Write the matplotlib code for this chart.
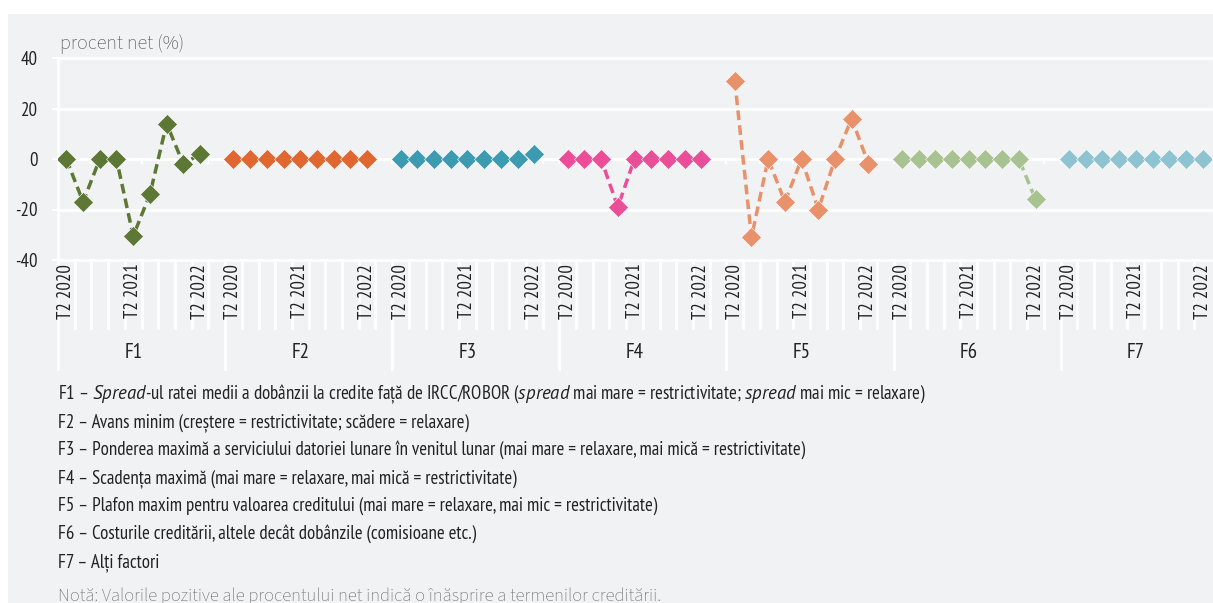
import numpy as np
import matplotlib
matplotlib.use("Agg")
import matplotlib.pyplot as plt
from matplotlib.patches import Rectangle

# date (procent net, %)
trimestre = ["T2 2020", "T3 2020", "T4 2020", "T1 2021", "T2 2021",
             "T3 2021", "T4 2021", "T1 2022", "T2 2022"]
factori = ["F1", "F2", "F3", "F4", "F5", "F6", "F7"]
f1 = [0, -17, 0, 0, -30.5, -14, 14, -2, 2]
f2 = [0, 0, 0, 0, 0, 0, 0, 0, 0]
f3 = [0, 0, 0, 0, 0, 0, 0, 0, 2]
f4 = [0, 0, 0, -19, 0, 0, 0, 0, 0]
f5 = [31, -31, 0, -17, 0, -20, 0, 16, -2]
f6 = [0, 0, 0, 0, 0, 0, 0, 0, -16]
f7 = [0, 0, 0, 0, 0, 0, 0, 0, 0]
culori = ["#5d7834", "#e0672f", "#3c9bb1", "#ec4d97", "#e8916b", "#a9c291", "#8ec4d1"]

legenda = [
    r"F1 – $\mathit{Spread}$-ul ratei medii a dobânzii la credite față de IRCC/ROBOR ($\mathit{spread}$ mai mare = restrictivitate; $\mathit{spread}$ mai mic = relaxare)",
    "F2 – Avans minim (creștere = restrictivitate; scădere = relaxare)",
    "F3 – Ponderea maximă a serviciului datoriei lunare în venitul lunar (mai mare = relaxare, mai mică = restrictivitate)",
    "F4 – Scadența maximă (mai mare = relaxare, mai mică = restrictivitate)",
    "F5 – Plafon maxim pentru valoarea creditului (mai mare = relaxare, mai mic = restrictivitate)",
    "F6 – Costurile creditării, altele decât dobânzile (comisioane etc.)",
    "F7 – Alți factori",
]
nota = "Notă: Valorile pozitive ale procentului net indică o înăsprire a termenilor creditării."

ingust = ["PT Sans Narrow", "Fira Sans Condensed", "DejaVu Sans"]
normal = ["Source Sans 3", "Source Sans Pro", "PT Sans", "DejaVu Sans"]
plt.rcParams["font.family"] = ingust
plt.rcParams["axes.unicode_minus"] = False
plt.rcParams["mathtext.fontset"] = "custom"
plt.rcParams["mathtext.it"] = "PT Sans:italic"
plt.rcParams["mathtext.rm"] = "PT Sans Narrow"

W, H = 1213, 603
fig = plt.figure(figsize=(W / 100, H / 100), dpi=100)
fig.patch.set_facecolor("white")
fig.patches.append(Rectangle((8 / W, 0), 1, 1 - 14 / H, transform=fig.transFigure,
                             facecolor="#f1f2f4", edgecolor="none", zorder=-10))

ax = fig.add_axes([58 / W, 1 - 260 / H, 1153 / W, 202 / H])
ax.set_facecolor("none")
for s in ax.spines.values():
    s.set_visible(False)

n_slot = 10 * (len(factori) - 1) + len(trimestre)
ax.set_xlim(0, n_slot)
ax.set_ylim(-40, 40)
ax.set_yticks([-40, -20, 0, 20, 40])
ax.set_xticks([])
ax.tick_params(axis="y", length=4.5, width=1.5, color="white", pad=10,
               labelsize=13.5, labelcolor="#222222")
for yv in [-40, -20, 0, 20, 40]:
    ax.axhline(yv, color="white", lw=2, zorder=1, clip_on=False)

tr = ax.get_xaxis_transform()
# linia axei verticale + separatoare
for j in range(n_slot):
    if j == 0:
        ax.plot([j, j], [1, -0.54], transform=tr, color="white", lw=2, clip_on=False, zorder=1)
    elif j % 10 == 0:
        ax.plot([j, j], [0, -0.54], transform=tr, color="white", lw=2, clip_on=False, zorder=1)
    else:
        ax.plot([j, j], [0, -0.337], transform=tr, color="white", lw=2, clip_on=False, zorder=1)
    if j > 0:
        ax.plot([j, j], [0, -1.7], color="white", lw=1.5, zorder=1)

serii = [f1, f2, f3, f4, f5, f6, f7]
for g, (vals, col) in enumerate(zip(serii, culori)):
    x = 10 * g + np.arange(len(vals)) + 0.5
    ax.plot(x, vals, ls=(0, (2.8, 1.5)), lw=2.5, color=col, marker="D", ms=10,
            mec="white", mew=0.4, zorder=3)
    for k, q in enumerate(trimestre):
        if q.startswith("T2"):
            ax.text(x[k], -0.018, q, transform=tr, rotation=90, ha="center", va="top",
                    fontsize=13.5, color="#222222")
    ax.text(10 * g + len(vals) / 2, -0.46, factori[g], transform=tr, ha="center",
            va="center", fontsize=15, color="#222222")

fig.text(60 / W, 1 - 44 / H, "procent net (%)", family=normal,
         fontsize=14.5, color="#555555", va="center")

for i, linie in enumerate(legenda):
    fig.text(58 / W, 1 - (399 + 28 * i) / H, linie, fontsize=13.6, color="#222222",
             va="baseline")
fig.text(58 / W, 1 - 601 / H, nota, family=normal, fontsize=13.4,
         color="#6e6e6e", va="baseline")

fig.savefig("out.png", dpi=100, facecolor=fig.get_facecolor())
